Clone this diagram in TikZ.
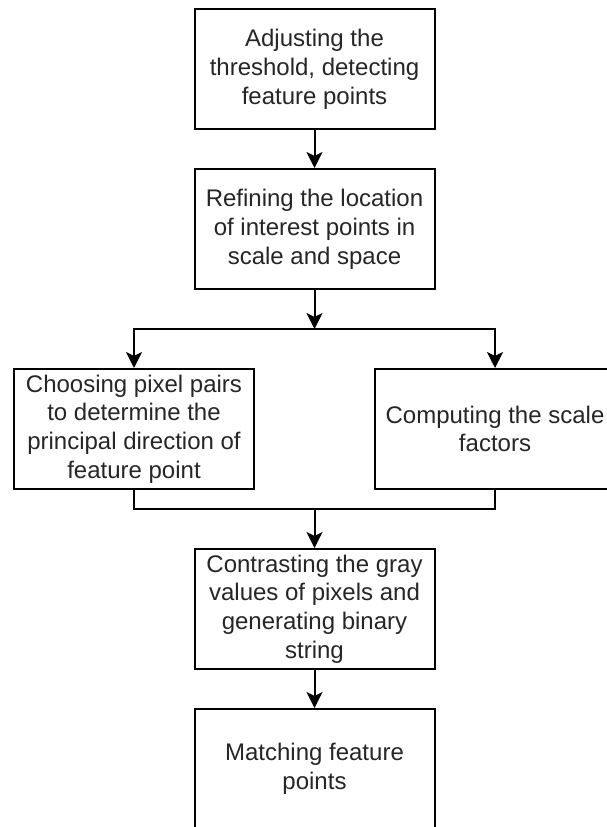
\documentclass[tikz,border=0pt]{standalone}
\usepackage{fontspec}
\setmainfont{Liberation Sans}
\usetikzlibrary{arrows.meta}
\definecolor{labelgray}{HTML}{262626}

\begin{document}
\begin{tikzpicture}[
  x=0.75pt, y=-0.75pt,
  stepbox/.style={draw=black, line width=1.5pt, fill=white, rectangle,
    minimum width=180pt, minimum height=90pt, inner sep=0pt,
    align=center, text=labelgray, font=\fontsize{18pt}{21.6pt}\selectfont},
  link/.style={draw=black, line width=1.5pt},
  arr/.style={link, -{Stealth[length=12pt, width=12pt, inset=3pt]}}
]
% page frame
\useasboundingbox[fill=white] (0,0) rectangle (606,827);

% process boxes
\node[stepbox] (b1) at (314.5,69)  {Adjusting the\\threshold, detecting\\feature points};
\node[stepbox] (b2) at (314.5,229) {Refining the location\\of interest points in\\scale and space};
\node[stepbox] (b3) at (134,429)   {Choosing pixel pairs\\to determine the\\principal direction of\\feature point};
\node[stepbox] (b4) at (495,429)   {Computing the scale\\factors};
\node[stepbox] (b5) at (314.5,609) {Contrasting the gray\\values of pixels and\\generating binary\\string};
\node[stepbox] (b6) at (314.5,769) {Matching feature\\points};

% split and merge points
\coordinate (split) at (314.5,329);
\coordinate (merge) at (314.5,509);

% connectors
\draw[arr] (b1) -- (b2);
\draw[arr] (b2) -- (split);
\draw[arr] (split) -| (b3);
\draw[arr] (split) -| (b4);
\draw[link] (b3.south) |- (merge);
\draw[link] (b4.south) |- (merge);
\draw[arr] (merge) -- (b5);
\draw[arr] (b5) -- (b6);
\end{tikzpicture}
\end{document}
